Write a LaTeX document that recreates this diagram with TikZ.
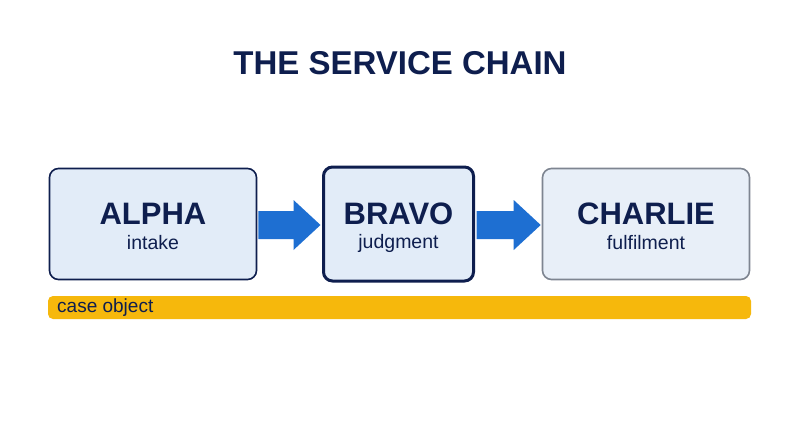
\documentclass[tikz,border=0pt]{standalone}
\usepackage{fontspec}
\setmainfont{Liberation Sans}
\definecolor{navy}{HTML}{0E1E4E}
\definecolor{boxfill}{HTML}{E2ECF8}
\definecolor{boxfill2}{HTML}{E8EFF8}
\definecolor{grayb}{HTML}{7E8591}
\definecolor{arrowblue}{HTML}{1E6FD2}
\definecolor{bar}{HTML}{F6B80C}
\begin{document}
\begin{tikzpicture}[x=1pt,y=-1pt,
  box/.style={draw=navy,line width=1.6pt,fill=boxfill,rounded corners=9pt,align=center,inner sep=0pt},
  big/.style={font=\bfseries\fontsize{31}{33}\selectfont,text=navy},
  small/.style={font=\fontsize{19.5}{22}\selectfont,text=navy},
  flow/.style={fill=arrowblue}]
\useasboundingbox (0,0) rectangle (800,447);
\fill[white] (0,0) rectangle (800,447);
\node[font=\bfseries\fontsize{33}{36}\selectfont,text=navy] (title) at (400,63) {THE SERVICE CHAIN};
\node[box,minimum width=207pt,minimum height=111pt] (a) at (153,224) {};
\node[box,line width=3pt,minimum width=150pt,minimum height=114pt] (b) at (398.5,224) {};
\node[box,draw=grayb,fill=boxfill2,minimum width=207pt,minimum height=111pt] (c) at (646,224) {};
\node[big] (at) at (153,214) {ALPHA};
\node[small] (as) at (153,243) {intake};
\node[big] (bt) at (398.5,214) {BRAVO};
\node[small] (bs) at (398.5,243) {judgment};
\node[big] (ct) at (646,214) {CHARLIE};
\node[small] (cs) at (646,243) {fulfilment};
\coordinate (ab1) at ([xshift=1pt,yshift=-1pt]a.east);
\coordinate (ab2) at ([xshift=-1.5pt,yshift=-1pt]b.west);
\fill[flow] ([yshift=-14pt]ab1) -- ([xshift=-27pt,yshift=-14pt]ab2) -- ([xshift=-27pt,yshift=-25pt]ab2) -- (ab2) -- ([xshift=-27pt,yshift=25pt]ab2) -- ([xshift=-27pt,yshift=14pt]ab2) -- ([yshift=14pt]ab1) -- cycle;
\coordinate (bc1) at ([xshift=1.5pt,yshift=-1pt]b.east);
\coordinate (bc2) at ([xshift=-1pt,yshift=-1pt]c.west);
\fill[flow] ([yshift=-14pt]bc1) -- ([xshift=-27pt,yshift=-14pt]bc2) -- ([xshift=-27pt,yshift=-25pt]bc2) -- (bc2) -- ([xshift=-27pt,yshift=25pt]bc2) -- ([xshift=-27pt,yshift=14pt]bc2) -- ([yshift=14pt]bc1) -- cycle;
\node[fill=bar,rounded corners=5pt,minimum width=703pt,minimum height=23pt,inner sep=0pt] (bar) at (399.5,307.5) {};
\node[font=\fontsize{19}{21}\selectfont,text=navy,anchor=west,inner sep=0pt] (bl) at (57,307.5) {case object};
\end{tikzpicture}
\end{document}
